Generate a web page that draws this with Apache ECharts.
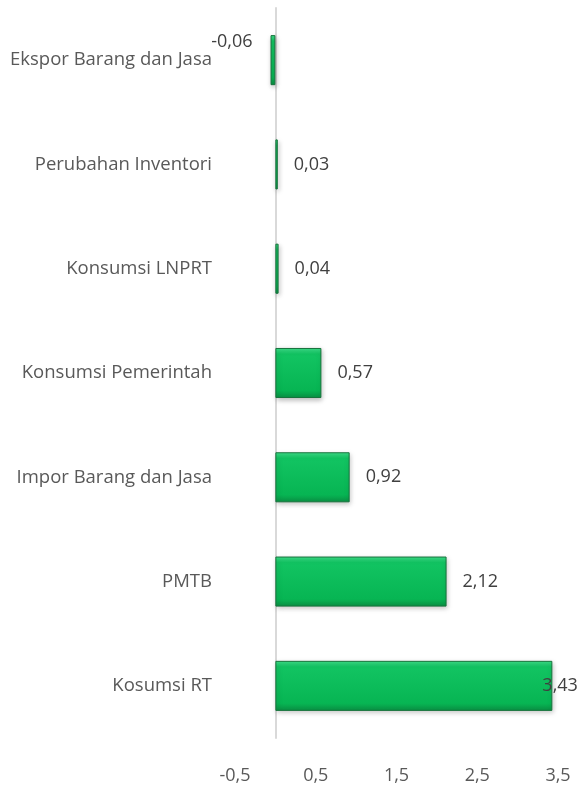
<!DOCTYPE html>
<html>
<head>
<meta charset="utf-8">
<script src="https://cdn.jsdelivr.net/npm/echarts@6/dist/echarts.min.js"></script>
<style>
  html, body { margin: 0; padding: 0; background: #fff; }
  #chart { width: 583px; height: 787px; }
</style>
</head>
<body>
<div id="chart"></div>
<script>
// Kategori dari atas ke bawah
const categories = [
    'Ekspor Barang dan Jasa',
    'Perubahan Inventori',
    'Konsumsi LNPRT',
    'Konsumsi Pemerintah',
    'Impor Barang dan Jasa',
    'PMTB',
    'Kosumsi RT'
];
const values = [-0.06, 0.03, 0.04, 0.57, 0.92, 2.12, 3.43];
const tickValues = [-0.5, 0.5, 1.5, 2.5, 3.5];

const fontFamily = '"Open Sans", sans-serif';

function fmt(v) {
    return String(v).replace('.', ',');
}

const barColor = new echarts.graphic.LinearGradient(0, 0, 0, 1, [
    { offset: 0, color: '#3ee08a' },
    { offset: 0.12, color: '#12c462' },
    { offset: 0.85, color: '#07b553' },
    { offset: 1, color: '#0a8f43' }
]);

// label khusus untuk nilai negatif dan bar terpanjang
const seriesData = values.map(function (v) {
    const item = { value: v };
    if (v < 0) {
        item.label = { position: 'left', offset: [-2, -18] };
    } else if (v > 3) {
        item.label = { position: 'right', offset: [-26, 0] };
    }
    return item;
});

const chart = echarts.init(document.getElementById('chart'));

const option = {
    animation: false,
    grid: { left: 235, right: 25, top: 8, bottom: 49 },
    xAxis: {
        type: 'value',
        min: -0.5,
        max: 3.5,
        interval: 1,
        axisLine: { show: false },
        axisTick: { show: false },
        splitLine: { show: false },
        axisLabel: {
            margin: 29,
            color: '#595959',
            fontSize: 18,
            fontFamily: fontFamily,
            formatter: function (v) {
                return tickValues.indexOf(v) >= 0 ? fmt(v) : '';
            }
        }
    },
    yAxis: {
        type: 'category',
        inverse: true,
        data: categories,
        axisLine: { show: true, onZero: true, lineStyle: { color: '#d9d9d9', width: 2 } },
        axisTick: { show: false },
        axisLabel: {
            margin: 23,
            color: '#595959',
            fontSize: 18.5,
            fontFamily: fontFamily
        }
    },
    series: [{
        type: 'bar',
        data: seriesData,
        barWidth: '48%',
        itemStyle: {
            color: barColor,
            borderColor: '#17733c',
            borderWidth: 1,
            shadowColor: 'rgba(0,0,0,0.25)',
            shadowBlur: 5,
            shadowOffsetX: 1,
            shadowOffsetY: 2
        },
        label: {
            show: true,
            position: 'right',
            distance: 16,
            color: '#404040',
            fontSize: 18,
            fontFamily: fontFamily,
            formatter: function (p) { return fmt(p.value); }
        }
    }]
};

chart.setOption(option);
</script>
</body>
</html>
